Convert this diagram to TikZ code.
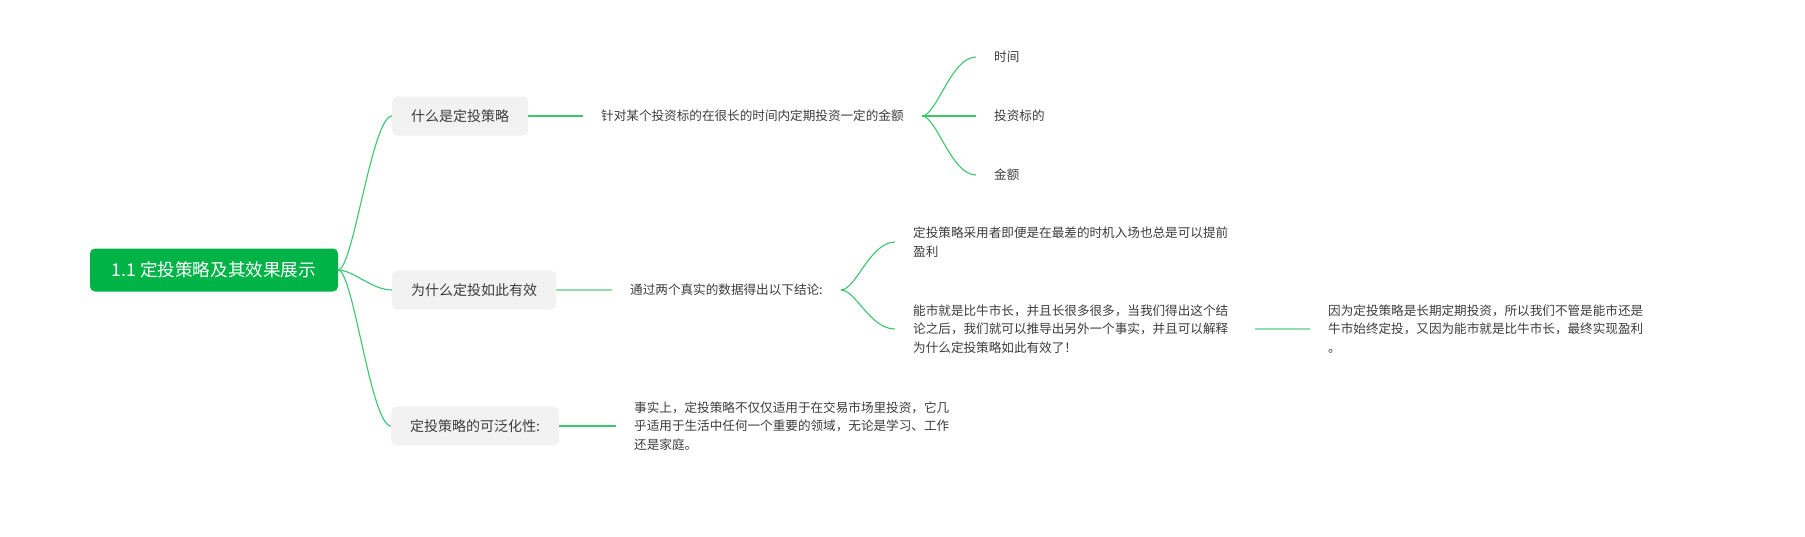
\documentclass[tikz,border=0pt]{standalone}
\usepackage{fontspec}
\setmainfont{Noto Sans CJK SC}
\usepackage{xcolor}
\usepackage{tikz}
\usetikzlibrary{positioning}

\definecolor{rootgreen}{HTML}{00B347}
\definecolor{linegreen}{HTML}{3CC46E}
\definecolor{palegreen}{HTML}{8FDDAA}
\definecolor{boxgray}{HTML}{F2F2F2}
\definecolor{inkgray}{HTML}{3C3C3C}

\begin{document}
\begin{tikzpicture}[
  x=1pt, y=-1pt,
  rootnode/.style={fill=rootgreen, text=white, rounded corners=5pt, minimum width=248pt, minimum height=43pt, font=\fontsize{17.6}{20}\selectfont},
  topic/.style={fill=boxgray, text=inkgray, rounded corners=6pt, inner xsep=19pt, minimum height=39pt, anchor=west, font=\fontsize{14}{17}\selectfont},
  sub/.style={text=inkgray, inner xsep=18pt, inner ysep=2pt, anchor=west, font=\fontsize{12.6}{15}\selectfont},
  para/.style={sub, text width=324pt, align=left, font=\fontsize{12.6}{18.5}\selectfont},
  link/.style={draw=linegreen, line width=1.1pt},
  soft/.style={draw=palegreen, line width=1.1pt}
]
\useasboundingbox (0,0) rectangle (1805,536);

% root and main topics
\node[rootnode] (root) at (214,270) {1.1 定投策略及其效果展示};
\node[topic] (what) at (392,116) {什么是定投策略};
\node[topic] (why) at (392,290) {为什么定投如此有效};
\node[topic] (general) at (391,426) {定投策略的可泛化性:};

% first branch
\node[sub] (define) at (583,116) {针对某个投资标的在很长的时间内定期投资一定的金额};
\node[sub] (time) at (976,57) {时间};
\node[sub] (target) at (976,116) {投资标的};
\node[sub] (amount) at (976,175) {金额};

% second branch
\node[sub] (result) at (612,290) {通过两个真实的数据得出以下结论:};
\node[para] (early) at (895,242) {定投策略采用者即便是在最差的时机入场也总是可以提前\\盈利};
\node[para] (bear) at (895,329) {能市就是比牛市长，并且长很多很多，当我们得出这个结\\论之后，我们就可以推导出另外一个事实，并且可以解释\\为什么定投策略如此有效了！};
\node[para] (reason) at (1310,329) {因为定投策略是长期定期投资，所以我们不管是能市还是\\牛市始终定投，又因为能市就是比牛市长，最终实现盈利\\。};

% third branch
\node[para] (fact) at (616,426) {事实上，定投策略不仅仅适用于在交易市场里投资，它几\\乎适用于生活中任何一个重要的领域，无论是学习、工作\\还是家庭。};

\draw[link] (root.east) .. controls +(15,0) and +(-20,0) .. (what.west);
\draw[link] (root.east) .. controls +(15,0) and +(-20,0) .. (why.west);
\draw[link] (root.east) .. controls +(15,0) and +(-20,0) .. (general.west);

\draw[link] (what.east) -- (define.west);
\draw[link] (define.east) .. controls +(15,0) and +(-25,0) .. (time.west);
\draw[link] (define.east) -- (target.west);
\draw[link] (define.east) .. controls +(15,0) and +(-25,0) .. (amount.west);

\draw[soft] (why.east) -- (result.west);
\draw[link] (result.east) .. controls +(15,0) and +(-25,0) .. (early.west);
\draw[link] (result.east) .. controls +(15,0) and +(-25,0) .. (bear.west);
\draw[soft] (bear.east) -- (reason.west);

\draw[link] (general.east) -- (fact.west);
\end{tikzpicture}
\end{document}
